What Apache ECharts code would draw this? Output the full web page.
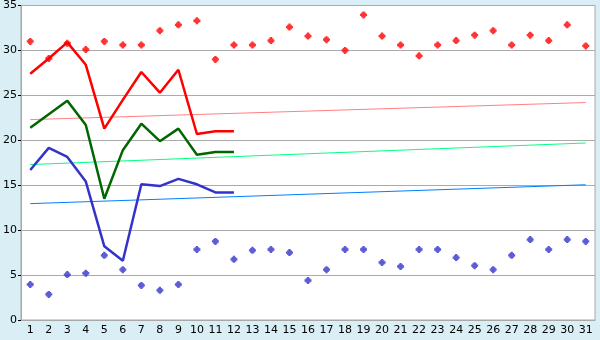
<!DOCTYPE html>
<html>
<head>
<meta charset="utf-8">
<script src="https://cdn.jsdelivr.net/npm/echarts@6/dist/echarts.min.js"></script>
<style>
  html, body { margin: 0; padding: 0; background: #d9eef5; }
  #chart { width: 600px; height: 340px; }
</style>
</head>
<body>
<div id="chart"></div>
<script>
// 日期 1..31
var days = [];
for (var d = 1; d <= 31; d++) days.push(String(d));

// 每日最高（红点）
var maxPoints = [31.0, 29.1, 30.8, 30.1, 31.0, 30.6, 30.6, 32.2, 32.85, 33.3,
  29.0, 30.6, 30.6, 31.1, 32.6, 31.6, 31.2, 30.0, 33.95, 31.6,
  30.6, 29.4, 30.6, 31.1, 31.7, 32.2, 30.6, 31.7, 31.1, 32.85, 30.5];
// 每日最低（蓝点）
var minPoints = [3.95, 2.85, 5.05, 5.2, 7.2, 5.6, 3.85, 3.3, 3.95, 7.85,
  8.75, 6.75, 7.75, 7.85, 7.5, 4.4, 5.6, 7.85, 7.85, 6.4,
  5.95, 7.85, 7.85, 6.95, 6.05, 5.6, 7.2, 8.95, 7.85, 8.95, 8.75];
// 前 12 天的折线
var redLine = [27.4, 29.1, 30.9, 28.4, 21.3, 24.5, 27.6, 25.3, 27.85, 20.7, 21.0, 21.0];
var greenLine = [21.4, 22.9, 24.4, 21.7, 13.5, 18.9, 21.85, 19.9, 21.3, 18.4, 18.7, 18.7];
var blueLine = [16.7, 19.15, 18.15, 15.4, 8.2, 6.6, 15.1, 14.9, 15.7, 15.1, 14.2, 14.2];
// 趋势线（1 日与 31 日两端）
var trendRed = [22.3, 24.2];
var trendGreen = [17.3, 19.7];
var trendBlue = [12.95, 15.05];

function ends(arr) {
  return [[days[0], arr[0]], [days[days.length - 1], arr[1]]];
}

// 小十字点（切角方块）
var plus = 'path://M2,0H4V1H5V2H6V4H5V5H4V6H2V5H1V4H0V2H1V1H2Z';

var chart = echarts.init(document.getElementById('chart'));
var option = {
  backgroundColor: '#d9eef5',
  animation: false,
  grid: {
    left: 20, right: 5, top: 5, bottom: 20,
    show: true,
    backgroundColor: '#ffffff',
    borderColor: '#a8a8a8',
    borderWidth: 1
  },
  xAxis: {
    type: 'category',
    data: days,
    boundaryGap: true,
    axisLine: { lineStyle: { color: '#a8a8a8' } },
    axisTick: { alignWithLabel: true, length: 4, lineStyle: { color: '#000' } },
    axisLabel: { color: '#000', fontFamily: 'DejaVu Sans', fontSize: 11, margin: 5, interval: 0 }
  },
  yAxis: {
    type: 'value',
    min: 0, max: 35, interval: 5,
    axisLine: { show: true, lineStyle: { color: '#a8a8a8' } },
    axisTick: { show: true, length: 3, lineStyle: { color: '#000' } },
    axisLabel: { color: '#000', fontFamily: 'DejaVu Sans', fontSize: 11, margin: 4 },
    splitLine: { lineStyle: { color: '#aaaaaa', width: 1 } }
  },
  series: [
    { type: 'line', data: ends(trendRed), symbol: 'none', lineStyle: { color: '#ff8080', width: 1 } },
    { type: 'line', data: ends(trendGreen), symbol: 'none', lineStyle: { color: '#00ff80', width: 1 } },
    { type: 'line', data: ends(trendBlue), symbol: 'none', lineStyle: { color: '#0080ff', width: 1 } },
    { type: 'line', data: redLine, symbol: 'none', lineStyle: { color: '#ff0000', width: 2.5 } },
    { type: 'line', data: greenLine, symbol: 'none', lineStyle: { color: '#006600', width: 2.5 } },
    { type: 'line', data: blueLine, symbol: 'none', lineStyle: { color: '#3333cc', width: 2.5 } },
    { type: 'scatter', data: maxPoints, symbol: plus, symbolSize: 7, itemStyle: { color: '#ff0000' } },
    { type: 'scatter', data: minPoints, symbol: plus, symbolSize: 7, itemStyle: { color: '#3333cc' } }
  ]
};
chart.setOption(option);
</script>
</body>
</html>
